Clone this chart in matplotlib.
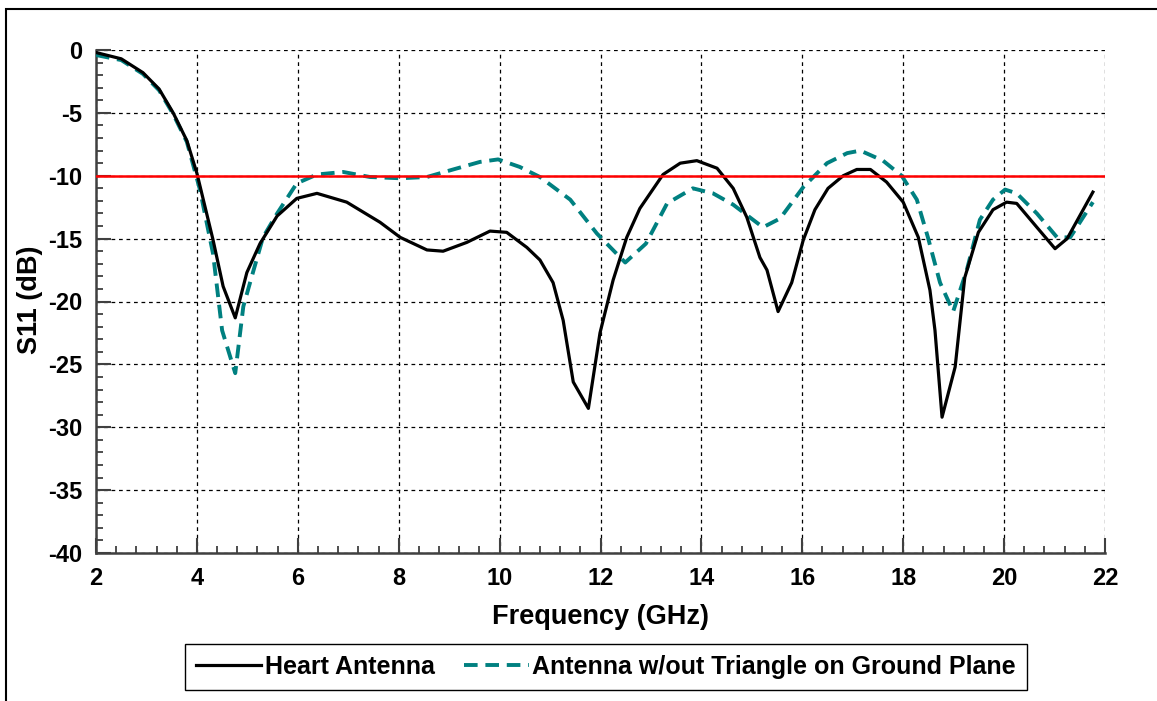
import numpy as np
import matplotlib
matplotlib.use('Agg')
import matplotlib.pyplot as plt
from matplotlib.patches import Rectangle
from matplotlib.ticker import MultipleLocator

plt.rcParams['font.family'] = ['Liberation Sans', 'DejaVu Sans']
plt.rcParams['font.weight'] = 'bold'
plt.rcParams['axes.unicode_minus'] = False

''' Heart Antenna, read off the picture '''
f_heart = [2.0, 2.5, 2.93, 3.25, 3.53, 3.8, 4.0, 4.32, 4.52, 4.76, 4.99, 5.25,
           5.59, 5.98, 6.38, 6.97, 7.63, 8.03, 8.56, 8.88, 9.35, 9.81, 10.14,
           10.54, 10.8, 11.06, 11.26, 11.46, 11.76, 11.99, 12.25, 12.52, 12.78,
           13.24, 13.58, 13.91, 14.31, 14.63, 14.9, 15.16, 15.3, 15.52, 15.79,
           16.02, 16.25, 16.51, 16.81, 17.08, 17.35, 17.67, 18.0, 18.3, 18.53,
           18.63, 18.77, 19.03, 19.22, 19.49, 19.78, 20.05, 20.25, 20.65, 21.01,
           21.25, 21.76]
s_heart = [-0.2, -0.7, -1.8, -3.1, -5.0, -7.2, -9.8, -15.1, -18.8, -21.3, -17.7,
           -15.4, -13.2, -11.8, -11.4, -12.1, -13.7, -14.9, -15.9, -16.0, -15.3,
           -14.4, -14.5, -15.7, -16.7, -18.5, -21.5, -26.4, -28.5, -22.5, -18.3,
           -14.9, -12.6, -9.9, -9.0, -8.8, -9.4, -11.0, -13.3, -16.5, -17.5,
           -20.8, -18.5, -15.1, -12.7, -11.0, -10.0, -9.5, -9.5, -10.5, -12.1,
           -14.9, -19.1, -22.3, -29.2, -25.2, -18.1, -14.5, -12.7, -12.1, -12.2,
           -14.1, -15.8, -15.0, -11.3]

''' Antenna without triangle on ground plane '''
f_notri = [2.0, 2.5, 2.93, 3.25, 3.53, 3.8, 4.06, 4.32, 4.5, 4.76, 4.92, 5.11,
           5.31, 5.59, 5.98, 6.38, 6.9, 7.43, 8.03, 8.56, 9.08, 9.61, 9.97,
           10.4, 10.8, 11.4, 11.93, 12.49, 12.9, 13.32, 13.83, 14.23, 14.63,
           15.22, 15.56, 16.02, 16.49, 16.89, 17.15, 17.6, 17.97, 18.27, 18.49,
           18.73, 18.99, 19.26, 19.52, 19.78, 20.02, 20.25, 20.65, 21.05, 21.31,
           21.76]
s_notri = [-0.4, -0.8, -1.9, -3.2, -5.1, -7.3, -11.1, -16.2, -22.3, -25.7, -20.4,
           -17.7, -14.9, -13.0, -10.6, -9.9, -9.7, -10.1, -10.2, -10.1, -9.5,
           -8.9, -8.7, -9.3, -10.1, -11.9, -14.6, -16.9, -15.4, -12.2, -11.0,
           -11.4, -12.3, -14.1, -13.4, -10.9, -9.0, -8.2, -8.0, -8.8, -10.0,
           -11.9, -14.9, -18.5, -20.8, -17.5, -13.5, -11.9, -11.1, -11.4, -13.0,
           -14.9, -14.9, -12.1]

ref_level = -10

fig = plt.figure(figsize=(11.57, 7.01), dpi=100)
ax = fig.add_axes([96/1157, 1 - 553/701, (1105 - 96)/1157, (553 - 50)/701])

ax.plot(f_notri, s_notri, color='#008080', lw=2.8, ls=(0, (3.5, 2)),
        label='Antenna w/out Triangle on Ground Plane', zorder=3)
ax.plot(f_heart, s_heart, color='black', lw=2.3, label='Heart Antenna', zorder=4)
ax.axhline(ref_level, color='red', lw=1.8, zorder=5)

ax.set_xlim(2, 22)
ax.set_ylim(-40, 0)
ax.xaxis.set_major_locator(MultipleLocator(2))
ax.xaxis.set_minor_locator(MultipleLocator(0.4))
ax.yaxis.set_major_locator(MultipleLocator(5))
ax.yaxis.set_minor_locator(MultipleLocator(1))
ax.grid(True, which='major', color='black', ls=(0, (3, 3)), lw=0.9)

for s in ['top', 'right']:
    ax.spines[s].set_visible(False)
for s in ['left', 'bottom']:
    ax.spines[s].set_color('#404040')
    ax.spines[s].set_linewidth(1.8)

ax.tick_params(which='both', direction='in', color='#404040', labelsize=17, pad=10)
ax.tick_params(which='major', length=11, width=1.5)
ax.tick_params(which='minor', length=5, width=1.3)
for lab in ax.get_xticklabels() + ax.get_yticklabels():
    lab.set_fontweight('bold')

ax.set_xlabel('Frequency (GHz)', fontsize=19.5, fontweight='bold')
ax.set_ylabel('S11 (dB)', fontsize=19.5, fontweight='bold')
ax.xaxis.set_label_coords(0.5, -0.102)
ax.yaxis.set_label_coords(-0.053, 0.503)

h, l = ax.get_legend_handles_labels()
leg = fig.legend(h[::-1], l[::-1], loc='center', bbox_to_anchor=(606/1157, 1 - 667/701),
                 ncol=2, fancybox=False, framealpha=1, edgecolor='black',
                 prop={'size': 18, 'weight': 'bold'}, handlelength=2.6,
                 columnspacing=1.15, borderpad=0.45, handletextpad=0.15,
                 borderaxespad=0)
leg.get_frame().set_linewidth(1.0)

fig.patches.append(Rectangle((6/1157, -0.1), 1.2, 1.1 - 9/701, transform=fig.transFigure,
                             fill=False, edgecolor='black', lw=1.5, zorder=0))

fig.savefig('out.png', dpi=100)
